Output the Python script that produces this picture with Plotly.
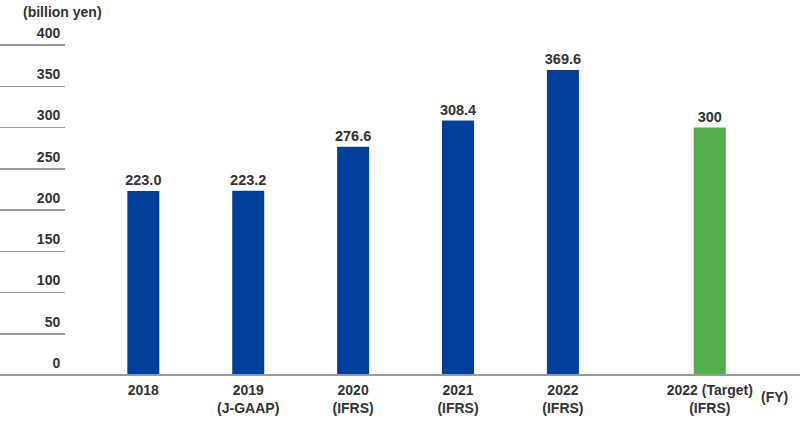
import plotly.graph_objects as go

# ---- data ----
categories = ["2018", "2019<br>(J-GAAP)", "2020<br>(IFRS)", "2021<br>(IFRS)", "2022<br>(IFRS)", "2022 (Target)<br>(IFRS)"]
values = [223.0, 223.2, 276.6, 308.4, 369.6, 300]
value_labels = ["223.0", "223.2", "276.6", "308.4", "369.6", "300"]
y_ticks = [0, 50, 100, 150, 200, 250, 300, 350, 400]

# ---- layout / style ----
positions = [0, 1, 2, 3, 4, 5.4]
colors = ["#00409A"] * 5 + ["#56AD4C"]
text_color = "#333333"
line_color = "#999999"

W, H = 800, 425
ML, MR, MT, MB = 66, 0, 45, 50
plot_w = W - ML - MR
plot_h = H - MT - MB

fig = go.Figure(
    go.Bar(
        x=positions,
        y=values,
        width=0.305,
        marker=dict(color=colors, line=dict(width=0)),
        text=value_labels,
        textposition="outside",
        constraintext="none",
        textfont=dict(family="Liberation Sans, Arial, sans-serif", size=14.5, color=text_color, weight="bold"),
        cliponaxis=False,
        hoverinfo="skip",
    )
)

fig.update_layout(
    width=W,
    height=H,
    margin=dict(l=ML, r=MR, t=MT, b=MB, autoexpand=False),
    paper_bgcolor="white",
    plot_bgcolor="white",
    showlegend=False,
    font=dict(family="Liberation Sans, Arial, sans-serif", size=14, color=text_color),
    xaxis=dict(
        range=[-0.737, 6.26],
        tickvals=positions,
        ticktext=categories,
        showgrid=False,
        zeroline=False,
        showline=False,
        ticks="",
        ticklabelstandoff=5,
        automargin=False,
        tickfont=dict(size=14, color=text_color, weight="bold"),
        fixedrange=True,
    ),
    yaxis=dict(
        range=[0, 400],
        tickvals=y_ticks,
        ticktext=[str(v) for v in y_ticks],
        showgrid=False,
        zeroline=False,
        showline=False,
        linewidth=0,
        ticks="outside",
        ticklen=70,
        tickwidth=1.5,
        tickcolor=line_color,
        ticklabelshift=-12,
        ticklabelstandoff=-68,
        automargin=False,
        tickfont=dict(size=14, color=text_color, weight="bold"),
        fixedrange=True,
    ),
    shapes=[
        # continuous baseline across the full width
        dict(
            type="line", xref="paper", yref="paper",
            x0=-ML / plot_w, x1=1, y0=0, y1=0,
            line=dict(color=line_color, width=2),
            layer="above",
        ),
    ],
    annotations=[
        dict(
            text="(billion yen)",
            xref="paper", yref="paper",
            x=(20.7 - ML) / plot_w, y=1 + (MT - 12.3) / plot_h,
            xanchor="left", yanchor="middle",
            showarrow=False,
            font=dict(size=14, color=text_color, weight="bold"),
        ),
        dict(
            text="(FY)",
            xref="paper", yref="paper",
            x=(774.5 - ML) / plot_w, y=-(397 - (H - MB)) / plot_h,
            xanchor="center", yanchor="middle",
            showarrow=False,
            font=dict(size=14, color=text_color, weight="bold"),
        ),
    ],
)

fig.write_html(
    "out.html",
    config={"displayModeBar": False, "staticPlot": True},
    post_script="document.body.style.margin='0';document.body.style.overflow='hidden';",
)
